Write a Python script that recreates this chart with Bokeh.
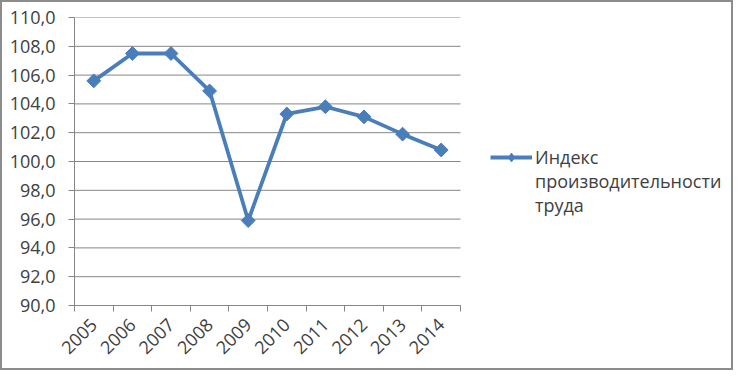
import numpy as np
from bokeh.plotting import figure
from bokeh.models import Range1d, FixedTicker, Legend, LegendItem
from bokeh.embed import file_html
from bokeh.resources import INLINE

years = ["2005", "2006", "2007", "2008", "2009", "2010", "2011", "2012", "2013", "2014"]
values = [105.6, 107.5, 107.5, 104.9, 95.9, 103.3, 103.8, 103.1, 101.9, 100.8]
y_ticks = [90, 92, 94, 96, 98, 100, 102, 104, 106, 108, 110]
legend_lines = ["Индекс", "производительности", "труда"]

FONT = "Open Sans"
TXT = "#404040"
BLUE = "#4A7EBB"
GRAY = "#868686"

W, H = 733, 370
LEFT, TOP, BOTTOM = 72, 15, 67
PLOT_W = 386  # width of the data area
n = len(years)
x = np.arange(n) + 0.5
x_end = n * (W - LEFT) / PLOT_W

p = figure(width=W, height=H, output_backend="svg", toolbar_location=None,
           x_range=Range1d(0, x_end), y_range=Range1d(90, 110),
           min_border_left=LEFT, min_border_top=TOP, min_border_right=0,
           min_border_bottom=BOTTOM)
p.styles = {"border": "2px solid #8c8c8c"}
p.outline_line_color = None
p.background_fill_color = "white"
p.border_fill_color = "white"
p.xgrid.visible = False
p.ygrid.visible = False

# horizontal gridlines limited to the data area
p.segment(x0=0, x1=n, y0=y_ticks, y1=y_ticks, line_color=GRAY, line_width=1)

line = p.line(x, values, line_color=BLUE, line_width=3.8)
# diamond markers (drawn under the rotated squares; used for the legend symbol)
leg_mark = p.scatter(x, values, marker="diamond", size=12,
                     fill_color=BLUE, line_color=BLUE)
pts = p.scatter(x, values, marker="square", size=9.8, angle=np.pi / 4,
                fill_color=BLUE, line_color=BLUE)

p.yaxis.ticker = FixedTicker(ticks=y_ticks)
p.yaxis.major_label_overrides = {t: f"{t:.1f}".replace(".", ",") for t in y_ticks}
p.yaxis.axis_line_color = GRAY
p.yaxis.major_tick_line_color = GRAY
p.yaxis.major_tick_out = 6
p.yaxis.major_tick_in = 0
p.yaxis.minor_tick_line_color = None
p.yaxis.major_label_standoff = 13

p.xaxis.bounds = (0, n)
p.xaxis.ticker = FixedTicker(ticks=list(x), minor_ticks=list(range(n + 1)))
p.xaxis.major_label_overrides = {float(xx): yr for xx, yr in zip(x, years)}
p.xaxis.major_label_orientation = np.pi / 4
p.xaxis.axis_line_color = GRAY
p.xaxis.major_tick_line_color = None
p.xaxis.minor_tick_line_color = GRAY
p.xaxis.minor_tick_out = 6
p.xaxis.minor_tick_in = 0
p.xaxis.major_label_standoff = 10

for ax in (p.xaxis, p.yaxis):
    ax.major_label_text_font = FONT
    ax.major_label_text_font_size = "18px"
    ax.major_label_text_color = TXT

items = [LegendItem(label=legend_lines[0], renderers=[line, leg_mark])]
items += [LegendItem(label=t, renderers=[]) for t in legend_lines[1:]]
legend = Legend(items=items, location=(416, 88), glyph_width=42, glyph_height=22,
                label_text_font=FONT, label_text_font_size="18px",
                label_text_color=TXT, label_height=14, label_text_line_height=1.0,
                padding=0, margin=0, spacing=0, label_standoff=3,
                border_line_color=None, background_fill_alpha=0)
p.add_layout(legend)

open("out.html", "w").write(file_html(p, INLINE))
